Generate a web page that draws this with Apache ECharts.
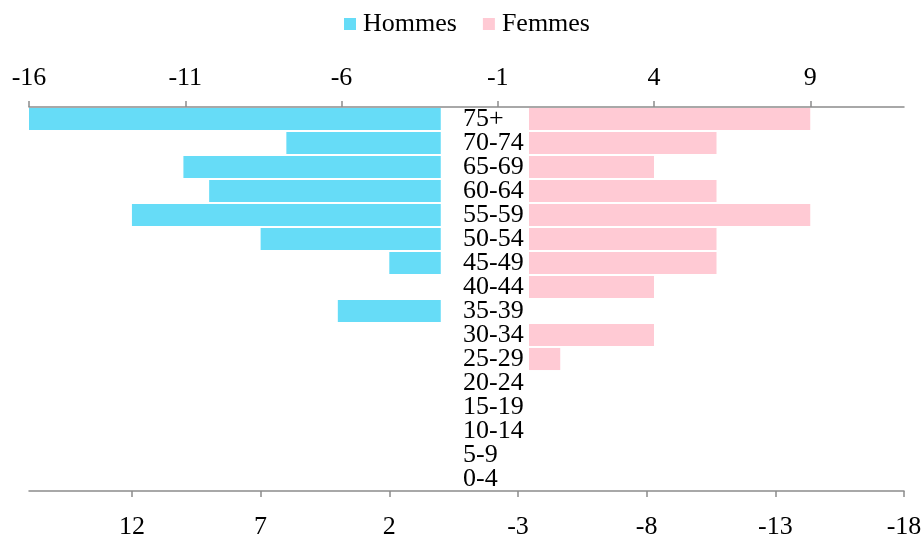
<!DOCTYPE html>
<html>
<head>
<meta charset="utf-8">
<script src="https://cdn.jsdelivr.net/npm/echarts@6/dist/echarts.min.js"></script>
<style>
    html, body { margin: 0; padding: 0; background: #fff; }
    #pyramid { width: 922px; height: 535px; }
</style>
</head>
<body>
<div id="pyramid"></div>
<script>
    // tranches d'âge, du bas vers le haut
    var ageGroups = ['0-4', '5-9', '10-14', '15-19', '20-24', '25-29', '30-34', '35-39',
        '40-44', '45-49', '50-54', '55-59', '60-64', '65-69', '70-74', '75+'];
    var hommes = [0, 0, 0, 0, 0, 0, 0, 4, 0, 2, 7, 12, 9, 10, 6, 16];
    var femmes = [0, 0, 0, 0, 0, 1, 4, 0, 4, 6, 6, 9, 6, 4, 6, 9];
    var topTicks = [-16, -11, -6, -1, 4, 9];
    var bottomTicks = [-18, -13, -8, -3, 2, 7, 12];

    var FONT = 'Liberation Serif';
    var axisGrey = '#8c8c8c';

    var chartDom = document.getElementById('pyramid');
    var myChart = echarts.init(chartDom);

    var valueAxis = function (pos, min, max, ticks, inverse, margin) {
        return {
            type: 'value',
            position: pos,
            min: min,
            max: max,
            interval: 5,
            inverse: inverse,
            splitLine: { show: false },
            axisLine: { show: true, onZero: false, lineStyle: { color: axisGrey, width: 1.5 } },
            axisTick: { show: true, length: 6, customValues: ticks, lineStyle: { color: axisGrey, width: 1.5 } },
            axisLabel: {
                customValues: ticks,
                margin: margin,
                color: '#000',
                fontFamily: FONT,
                fontSize: 26
            }
        };
    };

    var option = {
        animation: false,
        legend: {
            top: 6,
            left: 339,
            icon: 'rect',
            itemWidth: 12,
            itemHeight: 12,
            itemGap: 26,
            textStyle: { fontFamily: FONT, fontSize: 26, color: '#000', padding: [0, 0, 0, 2] },
            data: ['Hommes', 'Femmes']
        },
        grid: { left: 29, right: 18, top: 107, bottom: 44, containLabel: false, outerBoundsMode: 'none' },
        xAxis: [
            valueAxis('top', -16, 12, topTicks, false, 16),
            valueAxis('bottom', -18, 16, bottomTicks, true, 23)
        ],
        yAxis: {
            type: 'category',
            data: ageGroups,
            axisLine: { show: false },
            axisTick: { show: false },
            axisLabel: {
                inside: true,
                interval: 0,
                margin: 434,
                padding: [8, 0, 0, 0],
                color: '#000',
                fontFamily: FONT,
                fontSize: 26
            }
        },
        series: [
            {
                name: 'Hommes',
                type: 'bar',
                xAxisIndex: 1,
                data: hommes,
                barGap: '-100%',
                barCategoryGap: '8%',
                itemStyle: { color: '#66dcf7' }
            },
            {
                name: 'Femmes',
                type: 'bar',
                xAxisIndex: 0,
                data: femmes,
                barGap: '-100%',
                barCategoryGap: '8%',
                itemStyle: { color: '#ffcad4' }
            }
        ]
    };
    myChart.setOption(option);
</script>
</body>
</html>
